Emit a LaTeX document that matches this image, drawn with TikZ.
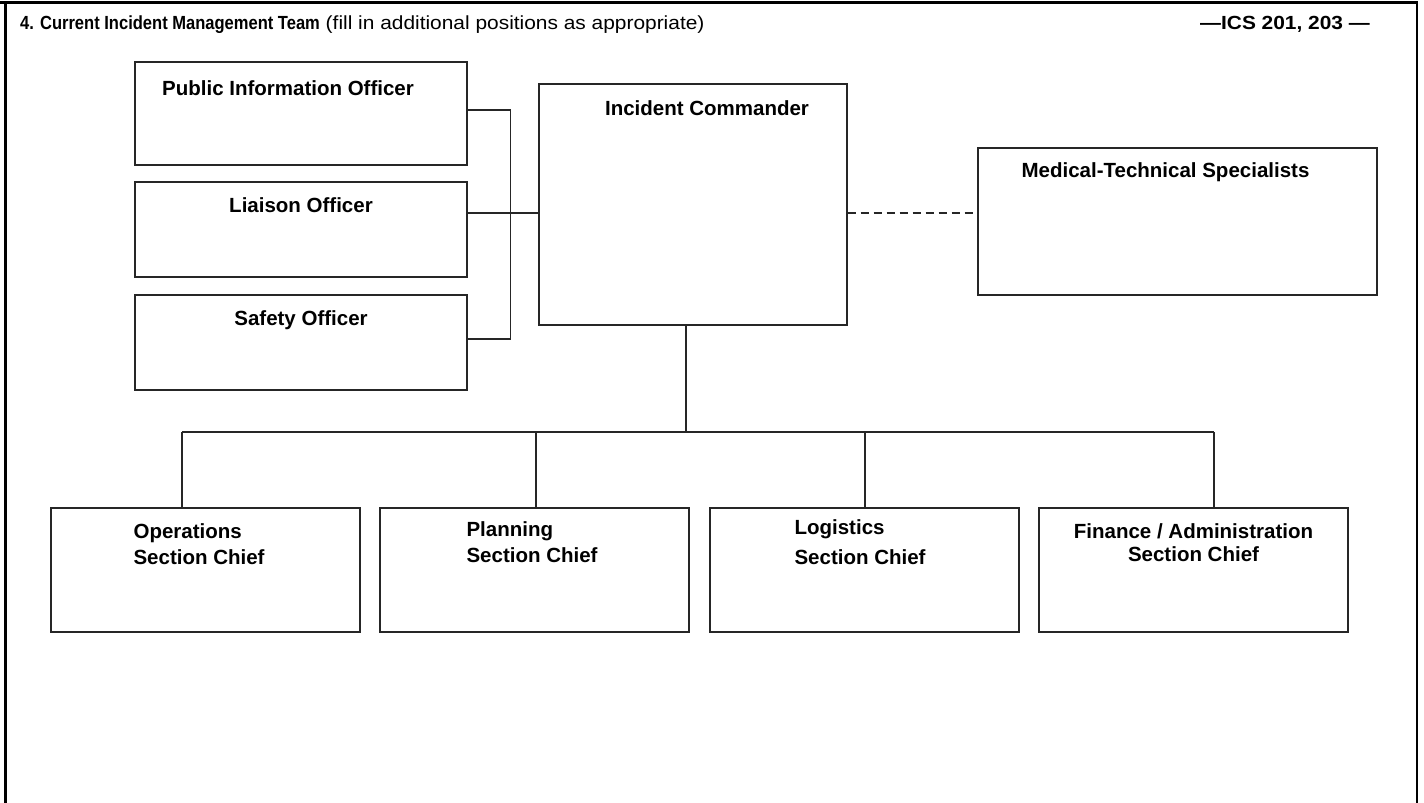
\documentclass[tikz,border=0pt]{standalone}
\usepackage{fontspec}
\setmainfont{Liberation Sans}
\newfontfamily\narrowsans[FakeStretch=0.87]{Liberation Sans}
\newfontfamily\widesans[FakeStretch=1.1]{Liberation Sans}
\usetikzlibrary{positioning}

\tikzset{
  posbox/.style={draw=black!85, line width=1.3pt, inner sep=0pt, fill=white},
  title/.style={inner sep=0pt, font=\fontsize{20.5}{23.5}\selectfont\bfseries},
  head/.style={inner sep=0pt, font=\fontsize{19}{22}\selectfont\widesans},
  link/.style={draw=black!85, line width=1.3pt},
  frame/.style={line width=2.8pt}
}

\begin{document}
\begin{tikzpicture}[x=1pt,y=-1pt]
  \useasboundingbox (0,0) rectangle (1424,803);
  % form frame
  \draw[frame] (0,2.5) -- (1418,2.5);
  \draw[frame] (5.5,1) -- (5.5,803);
  \draw[frame] (1417,1) -- (1417,803);
  \node[head, anchor=base west] (hdr) at (20,29.5)
    {{\narrowsans\bfseries 4. Current Incident Management Team} (fill in additional positions as appropriate)};
  \node[head, anchor=base east] (form) at (1370,29.5) {\bfseries —ICS 201, 203 —};

  % command staff
  \node[posbox, minimum width=332pt, minimum height=103pt] (pio) at (301,113.5) {};
  \node[posbox, minimum width=332pt, minimum height=95pt] (liaison) at (301,229.5) {};
  \node[posbox, minimum width=332pt, minimum height=95pt] (safety) at (301,342.5) {};
  \node[posbox, minimum width=308pt, minimum height=241pt] (ic) at (693,204.5) {};
  \node[posbox, minimum width=399pt, minimum height=147pt] (med) at (1177.5,221.5) {};
  \node[title, anchor=north, xshift=-13pt, yshift=-19pt] at (pio.north) {Public Information Officer};
  \node[title, anchor=north, yshift=-16pt] at (liaison.north) {Liaison Officer};
  \node[title, anchor=north, yshift=-16pt] at (safety.north) {Safety Officer};
  \node[title, anchor=north, xshift=14pt, yshift=-17pt] at (ic.north) {Incident Commander};
  \node[title, anchor=north, xshift=-12pt, yshift=-15pt] at (med.north) {Medical-Technical Specialists};

  \coordinate (staff) at (0,213);
  \draw[link] ([yshift=3.5pt]pio.east) -- ++(43,0) |- ([yshift=3.5pt]safety.east);
  \draw[link] (liaison.east |- staff) -- (ic.west |- staff);
  \draw[link, dashed, dash pattern=on 8pt off 5pt, line width=1.6pt] (ic.east |- staff) -- (med.west |- staff);

  % general staff
  \foreach \n/\cx/\dx in {ops/205.5/182,plan/534.5/536,log/864.5/865,fin/1193.5/1214}{
    \node[posbox, minimum width=309pt, minimum height=124pt] (\n) at (\cx,570) {};
    \coordinate (bus\n) at (\dx,432);
    \draw[link] (bus\n) -- (bus\n |- \n.north);
  }
  \coordinate (busic) at (686,432);
  \draw[link] (busops) -- (busfin);
  \draw[link] (busic |- ic.south) -- (busic);

  \node[title, align=left, anchor=north west, xshift=83pt, yshift=-16pt] at (ops.north west) {Operations\\[2.5pt]Section Chief};
  \node[title, align=left, anchor=north west, xshift=87pt, yshift=-14pt] at (plan.north west) {Planning\\[2.5pt]Section Chief};
  \node[title, align=left, anchor=north west, xshift=85pt, yshift=-12pt] at (log.north west) {Logistics\\[7pt]Section Chief};
  \node[title, align=center, anchor=north, yshift=-16pt] at (fin.north) {Finance / Administration\\Section Chief};
\end{tikzpicture}
\end{document}
